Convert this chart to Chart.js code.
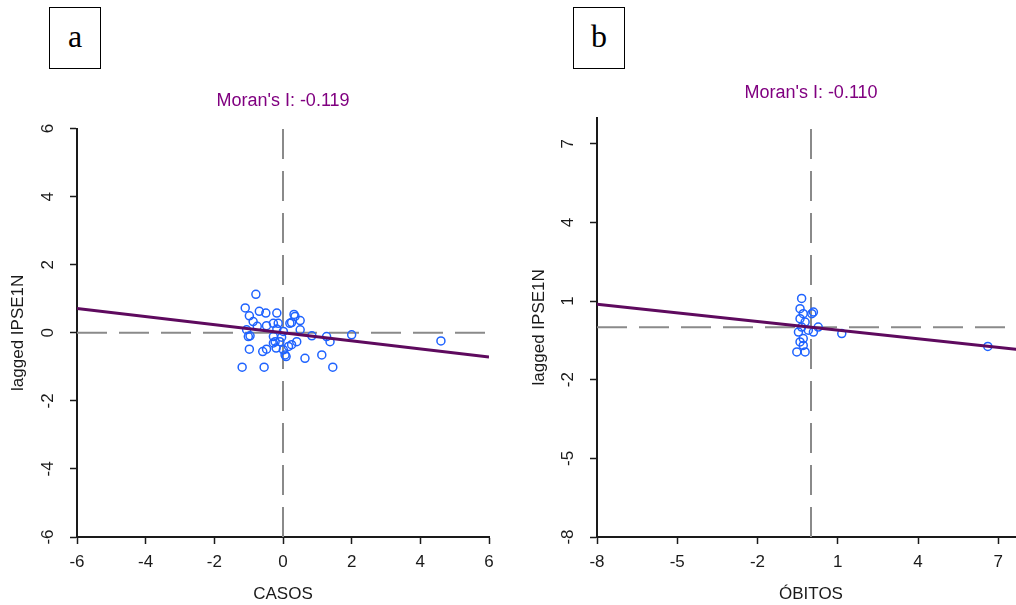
<!DOCTYPE html>
<html>
<head>
<meta charset="utf-8">
<script src="https://cdn.jsdelivr.net/npm/chart.js@4.4.1/dist/chart.umd.min.js"></script>
<style>
  html, body { margin: 0; padding: 0; background: #fff; }
  body { width: 1016px; height: 605px; overflow: hidden; position: relative; }
  .panel { position: absolute; top: 0; height: 605px; }
  #panelA { left: 0; width: 508px; }
  #panelB { left: 508px; width: 530px; }
  .tag {
    position: absolute; top: 7px; width: 52px; height: 62px; box-sizing: border-box;
    border: 1.5px solid #000; display: flex; align-items: center; justify-content: center;
    font-family: "Liberation Serif", "Times New Roman", serif; font-size: 32px; color: #000;
    padding-bottom: 3px;
  }
</style>
</head>
<body>
<div class="tag" style="left:49px">a</div>
<div class="tag" style="left:573px">b</div>
<div class="panel" id="panelA"><canvas id="chartA"></canvas></div>
<div class="panel" id="panelB"><canvas id="chartB"></canvas></div>
<script>
  // Painel a: CASOS (x) vs lagged IPSE1N (y)
  const CASOS_X = [-0.79, -1.10, -0.98, -0.69, -0.50, -0.18, 0.32, 0.50, -0.87, -0.75, -0.48, -0.28, -0.14, 0.25,
    -1.06, -0.96, -0.18, 0.01, 0.50, -0.28, -0.04, -0.23, 0.40, 0.84, 1.27, 2.00, 1.37, -0.98, -0.59, -0.48,
    -0.20, 0.16, 0.25, 0.06, 0.64, 1.13, -1.19, -0.55, 1.45, 4.60, 0.35, 0.20, -0.28, -0.09, 0.01, 0.09, -1.01];
  const CASOS_LAG = [1.13, 0.73, 0.50, 0.63, 0.58, 0.58, 0.54, 0.36, 0.33, 0.19, 0.21, 0.28, 0.28, 0.30,
    0.09, -0.09, 0.11, 0.04, 0.09, -0.11, -0.13, -0.26, -0.26, -0.09, -0.11, -0.06, -0.26, -0.48, -0.55, -0.48,
    -0.45, -0.40, -0.35, -0.65, -0.75, -0.65, -1.01, -1.01, -1.01, -0.24, 0.48, 0.28, -0.30, -0.26, -0.50, -0.70, -0.11];
  const MORAN_A = -0.119;
  const TICKS_A = [-6, -4, -2, 0, 2, 4, 6];

  // Painel b: ÓBITOS (x) vs lagged IPSE1N (y)
  const OBITOS_X = [-0.35, -0.41, 0.03, -0.29, -0.41, -0.22, -0.35, 0.27, -0.47, -0.10, 0.09, -0.29, -0.41,
    -0.29, -0.53, -0.22, 1.15, 0.09, 6.61];
  const OBITOS_LAG = [1.10, 0.71, 0.52, 0.52, 0.33, 0.20, 0.01, 0.01, -0.18, -0.11, -0.18, -0.43, -0.56,
    -0.69, -0.94, -0.94, -0.24, 0.58, -0.73];
  const MORAN_B = -0.110;
  const TICKS_B = [-8, -5, -2, 1, 4, 7];

  const INK = '#1a1a1a';
  const FONT = 'Liberation Sans, Arial, sans-serif';

  function axis(min, max, ticks, title, isX, size, titlePad) {
    return {
      type: 'linear',
      min,
      max,
      afterBuildTicks: (s) => { s.ticks = ticks.map((v) => ({ value: v })); },
      afterFit: (s) => { if (isX) s.height = size; else s.width = size; },
      border: { display: true, color: INK, width: 2 },
      grid: { drawOnChartArea: false, drawTicks: true, tickLength: 7, tickColor: INK, tickWidth: 1.5 },
      ticks: isX
        ? { color: INK, font: { family: FONT, size: 17 }, padding: 8, maxRotation: 0 }
        : { color: INK, font: { family: FONT, size: 17 }, padding: 14, minRotation: 90, maxRotation: 90, crossAlign: 'center' },
      title: { display: true, text: title, color: INK, font: { family: FONT, size: 17 }, padding: titlePad }
    };
  }

  function makePanel(canvas, cfg) {
    const { xs, ys, moran, ticks, range, xTitle, plotPad, yWidth, yTitlePad, titleTop, titleBottom } = cfg;
    const points = xs.map((x, i) => ({ x, y: ys[i] }));
    const [lo, hi] = range;
    return new Chart(canvas, {
      type: 'scatter',
      data: {
        datasets: [
          {
            type: 'line', order: 0, data: [{ x: lo, y: moran * lo }, { x: hi, y: moran * hi }],
            borderColor: '#5e0a5e', borderWidth: 3, pointRadius: 0, showLine: true
          },
          {
            order: 1, data: points, pointStyle: 'circle', pointRadius: 4,
            borderColor: '#1f63ff', borderWidth: 1.5, backgroundColor: 'rgba(0,0,0,0)'
          },
          {
            type: 'line', order: 2, data: [{ x: lo, y: 0 }, { x: hi, y: 0 }],
            borderColor: '#8a8a8a', borderWidth: 2, borderDash: [30, 12], pointRadius: 0, showLine: true
          },
          {
            type: 'line', order: 2, data: [{ x: 0, y: lo }, { x: 0, y: hi }],
            borderColor: '#8a8a8a', borderWidth: 2, borderDash: [30, 12], pointRadius: 0, showLine: true
          }
        ]
      },
      options: {
        responsive: true,
        maintainAspectRatio: false,
        animation: false,
        layout: { padding: plotPad },
        plugins: {
          legend: { display: false },
          tooltip: { enabled: false },
          title: {
            display: true,
            fullSize: false,
            text: `Moran's I: ${moran.toFixed(3)}`,
            color: '#800080',
            font: { family: FONT, size: 18, weight: 'normal' },
            padding: { top: titleTop, bottom: titleBottom }
          }
        },
        scales: {
          x: axis(lo, hi, ticks, xTitle, true, 68, { top: 0, bottom: 0 }),
          y: axis(lo, hi, ticks, 'lagged IPSE1N', false, yWidth, { top: yTitlePad, bottom: 0 })
        }
      }
    });
  }

  makePanel(document.getElementById('chartA'), {
    xs: CASOS_X, ys: CASOS_LAG, moran: MORAN_A, ticks: TICKS_A, range: [-6, 6], xTitle: 'CASOS',
    plotPad: { top: 0, left: 0, right: 19, bottom: 0 }, yWidth: 77, yTitlePad: 8, titleTop: 90, titleBottom: 17
  });

  makePanel(document.getElementById('chartB'), {
    xs: OBITOS_X, ys: OBITOS_LAG, moran: MORAN_B, ticks: TICKS_B, range: [-8, 8], xTitle: 'ÓBITOS',
    plotPad: { top: 0, left: 0, right: 13, bottom: 0 }, yWidth: 89, yTitlePad: 21, titleTop: 82, titleBottom: 14
  });
</script>
</body>
</html>
